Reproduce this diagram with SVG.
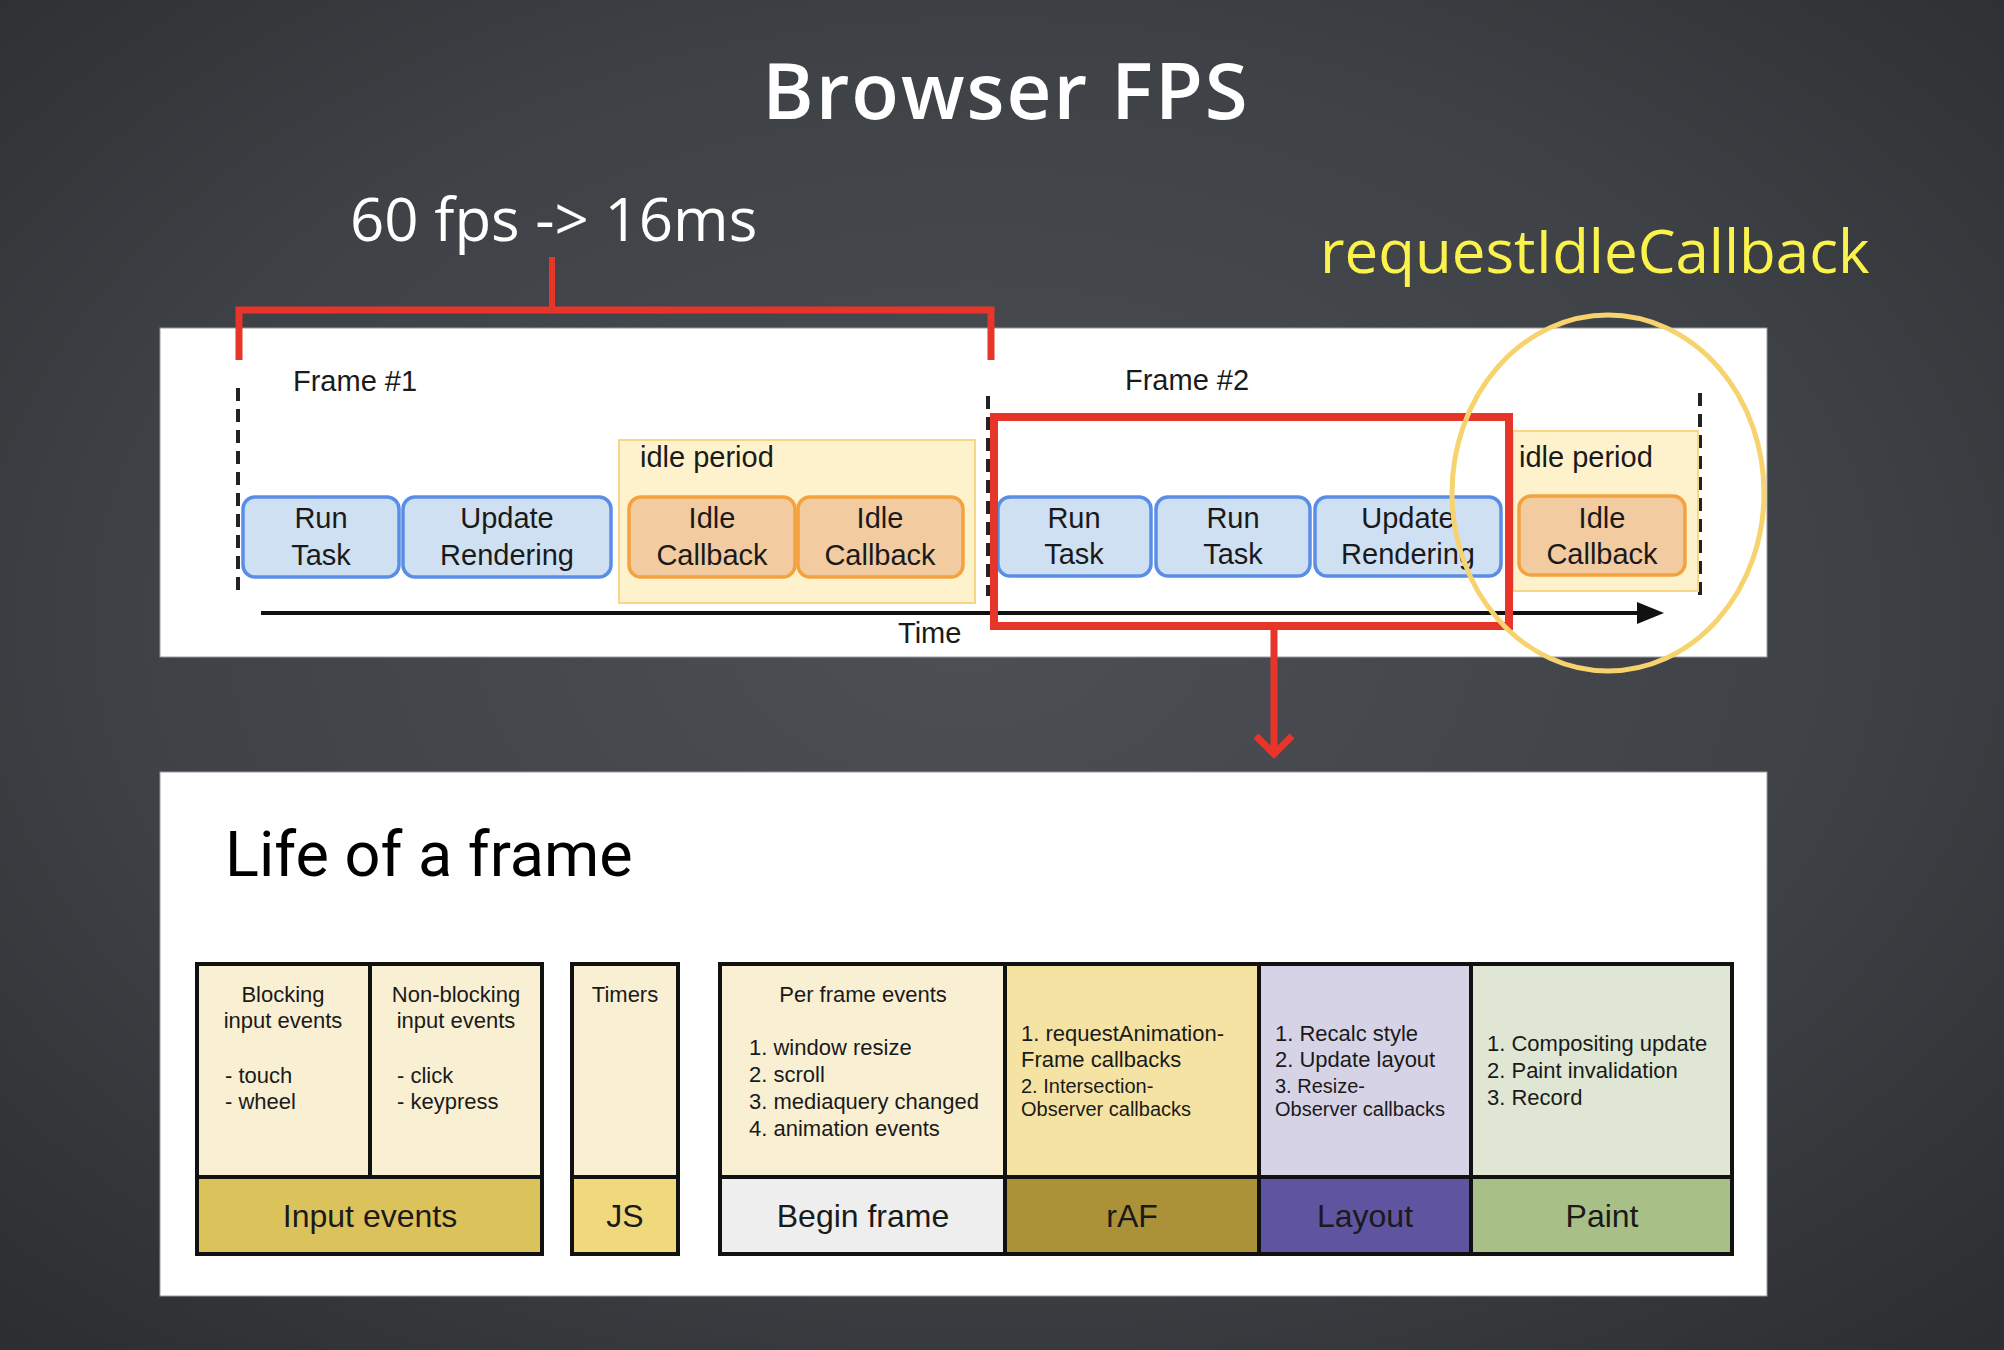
<svg xmlns="http://www.w3.org/2000/svg" width="2004" height="1350" viewBox="0 0 2004 1350">
<defs>
<radialGradient id="bg" cx="50%" cy="46%" r="72%" fx="48%" fy="46%">
<stop offset="0" stop-color="#4c4f54"/>
<stop offset="0.6" stop-color="#3e4145"/>
<stop offset="1" stop-color="#2c2e31"/>
</radialGradient>
<style>
.sans{font-family:"Liberation Sans",Arial,sans-serif;fill:#1a1a1a}
.f29{font-size:29px}
.task{fill:#cfe0f3;stroke:#5a8ee6;stroke-width:3.5}
.idle{fill:#f2cba0;stroke:#f3a23e;stroke-width:3.5}
.period{fill:#fef2cd;stroke:#f6d687;stroke-width:2}
.dash{stroke:#222;stroke-width:4;stroke-dasharray:13 8;fill:none}
.red{stroke:#e8352a;fill:none}
.cell{stroke:#111;stroke-width:4}
.t22{font-size:22px}
.t20{font-size:20px}
.lbl{font-size:32px;text-anchor:middle}
.mid{text-anchor:middle}
</style>
</defs>
<rect width="2004" height="1350" fill="url(#bg)"/>

<g id="title">
<text x="1006" y="119" text-anchor="middle" font-family="'Open Sans',sans-serif" font-weight="600" font-size="78" letter-spacing="2" fill="#ffffff">Browser FPS</text>
</g>
<g id="fps-label">
<text x="350" y="241" font-family="'Open Sans',sans-serif" font-size="60" fill="#ffffff">60 fps -&gt; 16ms</text>
</g>
<g id="ric-label">
<text x="1320" y="273" font-family="'Open Sans',sans-serif" font-size="60" fill="#fbf24b">requestIdleCallback</text>
</g>

<g id="frames-panel">
<rect x="160" y="328" width="1607" height="329" fill="#ffffff" stroke="#9a9a9a" stroke-width="1"/>
<text class="sans f29" x="293" y="391">Frame #1</text>
<text class="sans f29" x="1125" y="390">Frame #2</text>
<line class="dash" x1="238" y1="388" x2="238" y2="596"/>
<line class="dash" x1="988" y1="396" x2="988" y2="596"/>
<line class="dash" x1="1700" y1="393" x2="1700" y2="598"/>
</g>

<g id="idle-period-1">
<rect class="period" x="619" y="440" width="356" height="163"/>
<text class="sans f29" x="640" y="467">idle period</text>
</g>
<g id="idle-period-2">
<rect class="period" x="1513" y="431" width="185" height="160"/>
<text class="sans f29" x="1519" y="467">idle period</text>
</g>

<g id="run-task-1">
<rect class="task" x="243" y="497" width="156" height="80" rx="12"/>
<text class="sans f29 mid" x="321" y="528">Run</text>
<text class="sans f29 mid" x="321" y="565">Task</text>
</g>
<g id="update-rendering-1">
<rect class="task" x="403" y="497" width="208" height="80" rx="12"/>
<text class="sans f29 mid" x="507" y="528">Update</text>
<text class="sans f29 mid" x="507" y="565">Rendering</text>
</g>
<g id="idle-callback-1">
<rect class="idle" x="629" y="497" width="166" height="80" rx="12"/>
<text class="sans f29 mid" x="712" y="528">Idle</text>
<text class="sans f29 mid" x="712" y="565">Callback</text>
</g>
<g id="idle-callback-2">
<rect class="idle" x="798" y="497" width="165" height="80" rx="12"/>
<text class="sans f29 mid" x="880" y="528">Idle</text>
<text class="sans f29 mid" x="880" y="565">Callback</text>
</g>
<g id="run-task-2">
<rect class="task" x="998" y="497" width="153" height="79" rx="12"/>
<text class="sans f29 mid" x="1074" y="528">Run</text>
<text class="sans f29 mid" x="1074" y="564">Task</text>
</g>
<g id="run-task-3">
<rect class="task" x="1156" y="497" width="154" height="79" rx="12"/>
<text class="sans f29 mid" x="1233" y="528">Run</text>
<text class="sans f29 mid" x="1233" y="564">Task</text>
</g>
<g id="update-rendering-2">
<rect class="task" x="1315" y="497" width="186" height="79" rx="12"/>
<text class="sans f29 mid" x="1408" y="528">Update</text>
<text class="sans f29 mid" x="1408" y="564">Rendering</text>
</g>
<g id="idle-callback-3">
<rect class="idle" x="1519" y="496" width="166" height="79" rx="12"/>
<text class="sans f29 mid" x="1602" y="528">Idle</text>
<text class="sans f29 mid" x="1602" y="564">Callback</text>
</g>

<g id="connectors">
<line x1="261" y1="613" x2="1640" y2="613" stroke="#111" stroke-width="4"/>
<polygon points="1637,602 1664,613 1637,624" fill="#111"/>
<text class="sans f29" x="898" y="643">Time</text>
<line class="red" x1="552" y1="257" x2="552" y2="310" stroke-width="6"/>
<polyline class="red" points="239,360 239,310 991,310 991,360" stroke-width="7"/>
<rect class="red" x="994" y="417" width="515" height="209" stroke-width="8"/>
<line class="red" x1="1274" y1="630" x2="1274" y2="752" stroke-width="7"/>
<polyline class="red" points="1256,736 1274,754 1292,736" stroke-width="7"/>
</g>

<g id="ric-highlight">
<ellipse cx="1608" cy="493" rx="156" ry="178" fill="none" stroke="#f6d36e" stroke-width="5"/>
</g>

<g id="life-panel">
<rect x="160" y="772" width="1607" height="524" fill="#ffffff" stroke="#9a9a9a" stroke-width="1"/>
<text x="225" y="876" font-family="Roboto,sans-serif" font-size="63" fill="#000">Life of a frame</text>
</g>

<g id="input-events">
<rect x="197" y="964" width="173" height="213" fill="#f9efd2" class="cell"/>
<rect x="370" y="964" width="172" height="213" fill="#f9efd2" class="cell"/>
<rect x="197" y="1177" width="345" height="77" fill="#dcc25a" class="cell"/>
<text class="sans t22 mid" x="283" y="1002">Blocking</text>
<text class="sans t22 mid" x="283" y="1028">input events</text>
<text class="sans t22" x="225" y="1083">- touch</text>
<text class="sans t22" x="225" y="1109">- wheel</text>
<text class="sans t22 mid" x="456" y="1002">Non-blocking</text>
<text class="sans t22 mid" x="456" y="1028">input events</text>
<text class="sans t22" x="397" y="1083">- click</text>
<text class="sans t22" x="397" y="1109">- keypress</text>
<text class="sans lbl" x="370" y="1227">Input events</text>
</g>

<g id="js">
<rect x="572" y="964" width="106" height="213" fill="#f9efd2" class="cell"/>
<rect x="572" y="1177" width="106" height="77" fill="#f0d97d" class="cell"/>
<text class="sans t22 mid" x="625" y="1002">Timers</text>
<text class="sans lbl" x="625" y="1227">JS</text>
</g>

<g id="begin-frame">
<rect x="720" y="964" width="285" height="213" fill="#f9efd2" class="cell"/>
<rect x="720" y="1177" width="285" height="77" fill="#eeeeee" class="cell"/>
<text class="sans t22 mid" x="863" y="1002">Per frame events</text>
<text class="sans t22" x="749" y="1055">1. window resize</text>
<text class="sans t22" x="749" y="1082">2. scroll</text>
<text class="sans t22" x="749" y="1109">3. mediaquery changed</text>
<text class="sans t22" x="749" y="1136">4. animation events</text>
<text class="sans lbl" x="863" y="1227">Begin frame</text>
</g>

<g id="raf">
<rect x="1005" y="964" width="254" height="213" fill="#f5e3a3" class="cell"/>
<rect x="1005" y="1177" width="254" height="77" fill="#ab9138" class="cell"/>
<text class="sans t22" x="1021" y="1041">1. requestAnimation-</text>
<text class="sans t22" x="1021" y="1067">Frame callbacks</text>
<text class="sans t20" x="1021" y="1093">2. Intersection-</text>
<text class="sans t20" x="1021" y="1116">Observer callbacks</text>
<text class="sans lbl" x="1132" y="1227">rAF</text>
</g>

<g id="layout">
<rect x="1259" y="964" width="212" height="213" fill="#d6d3e7" class="cell"/>
<rect x="1259" y="1177" width="212" height="77" fill="#5f54a0" class="cell"/>
<text class="sans t22" x="1275" y="1041">1. Recalc style</text>
<text class="sans t22" x="1275" y="1067">2. Update layout</text>
<text class="sans t20" x="1275" y="1093">3. Resize-</text>
<text class="sans t20" x="1275" y="1116">Observer callbacks</text>
<text class="sans lbl" x="1365" y="1227">Layout</text>
</g>

<g id="paint">
<rect x="1471" y="964" width="261" height="213" fill="#dfe7d4" class="cell"/>
<rect x="1471" y="1177" width="261" height="77" fill="#a8c088" class="cell"/>
<text class="sans t22" x="1487" y="1051">1. Compositing update</text>
<text class="sans t22" x="1487" y="1078">2. Paint invalidation</text>
<text class="sans t22" x="1487" y="1105">3. Record</text>
<text class="sans lbl" x="1602" y="1227">Paint</text>
</g>
</svg>
